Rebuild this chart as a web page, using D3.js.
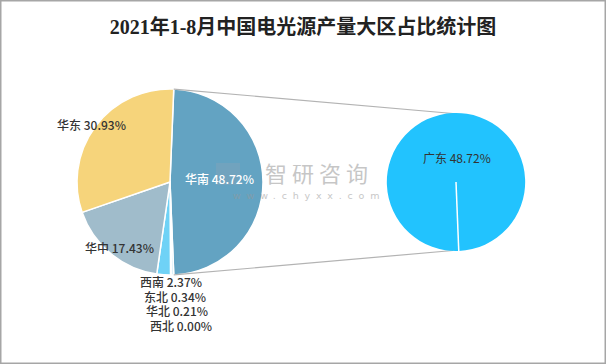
<!DOCTYPE html>
<html><head><meta charset="utf-8">
<script src="https://cdn.jsdelivr.net/npm/d3@7"></script>
<style>
html,body{margin:0;padding:0;background:#fff;}
svg{display:block;}
</style></head>
<body>
<script>
const title = "2021年1-8月中国电光源产量大区占比统计图";
const regions = ["华南","东北","华北","西北","西南","华中","华东"];
const shares = [48.72,0.34,0.21,0.00,2.37,17.43,30.93];
const colors = ["#63a3c2","#79c8e8","#7fcdee","#80d0f0","#6fd2f6","#a0bccb","#f6d47b"];
const subRegions = ["广东"];
const subShares = [48.72];
const subColors = ["#22c3fe"];

const W = 606, H = 364;
const svg = d3.select("body").append("svg").attr("width", W).attr("height", H);
svg.append("rect").attr("x",0.75).attr("y",0.75).attr("width",W-1.5).attr("height",H-1.5)
  .attr("fill","#fff").attr("stroke","#a6a6a6").attr("stroke-width",1.5);

svg.append("text").attr("x", 303).attr("y", 34).attr("text-anchor","middle")
  .attr("font-family","'Liberation Serif','Noto Sans CJK SC',serif").attr("font-size",20)
  .attr("font-weight","bold").attr("fill","#222").text(title);

// main pie
const cx = 170, cy = 182, r = 93;
const total = d3.sum(shares);
const firstAngle = shares[0] / total * 2 * Math.PI;
const start = Math.PI/2 - firstAngle/2;
const pie = d3.pie().sort(null).value(d => d).startAngle(start).endAngle(start + 2*Math.PI);
const arcs = pie(shares);
const arc = d3.arc().innerRadius(0).outerRadius(r);
const g = svg.append("g").attr("transform", `translate(${cx},${cy})`);
g.selectAll("path").data(arcs).join("path")
  .attr("d", arc).attr("fill", (d,i) => colors[i])
  .attr("stroke","#fff").attr("stroke-width",1.5).attr("stroke-linejoin","round");

// second pie
const cx2 = 456, cy2 = 182, r2 = 69;
const subStart = arcs[0].endAngle;
const pie2 = d3.pie().sort(null).value(d => d).startAngle(subStart).endAngle(subStart + 2*Math.PI);
const arcs2 = pie2(subShares);
const arc2 = d3.arc().innerRadius(0).outerRadius(r2);

// connectors
const p = (x0,y0,rr,a) => [x0 + rr*Math.sin(a), y0 - rr*Math.cos(a)];
const a1 = p(cx,cy,r,arcs[0].startAngle), a2 = p(cx,cy,r,arcs[0].endAngle);
const b1 = [cx2 - 3, cy2 - r2 + 0.5], b2 = [cx2 - 3, cy2 + r2 - 0.5];
svg.append("line").attr("x1",a1[0]).attr("y1",a1[1]).attr("x2",b1[0]).attr("y2",b1[1])
  .attr("stroke","#b3b3b3").attr("stroke-width",1.2);
svg.append("line").attr("x1",a2[0]).attr("y1",a2[1]).attr("x2",b2[0]).attr("y2",b2[1])
  .attr("stroke","#b3b3b3").attr("stroke-width",1.2);

const g2 = svg.append("g").attr("transform", `translate(${cx2},${cy2})`);
g2.selectAll("path").data(arcs2).join("path").attr("d", arc2).attr("fill",(d,i)=>subColors[i]);
arcs2.forEach(d => {
  const e = p(0,0,r2,d.startAngle);
  g2.append("line").attr("x1",0).attr("y1",0).attr("x2",e[0]).attr("y2",e[1])
    .attr("stroke","#fff").attr("stroke-width",1.5);
});

// watermark
const wm = svg.append("g").attr("opacity",0.55);
wm.append("rect").attr("x",216).attr("y",163).attr("width",24).attr("height",22).attr("fill","#8fa4b8").attr("opacity",0.6);
wm.append("text").attr("x",265).attr("y",182).attr("font-family","'Noto Sans CJK SC'").attr("font-size",22)
  .attr("fill","#999").attr("letter-spacing",5).text("智研咨询");
wm.append("text").attr("x",233).attr("y",199).attr("font-family","'DejaVu Sans'").attr("font-size",9.5)
  .attr("fill","#999").attr("letter-spacing",5.8).text("www.chyxx.com");

// labels
const font = "'Noto Sans CJK SC','Noto Sans',sans-serif";
const labelPos = {
  "华南":[185,184,"start","#fff"],
  "华东":[57,130,"start","#333"],
  "华中":[85,253,"start","#333"],
  "西南":[140,287,"start","#333"],
  "东北":[144,302,"start","#333"],
  "华北":[146,316,"start","#333"],
  "西北":[150,331,"start","#333"]
};
regions.forEach((name,i) => {
  const lp = labelPos[name];
  svg.append("text").attr("x",lp[0]).attr("y",lp[1]).attr("text-anchor",lp[2])
    .attr("font-family",font).attr("font-size",12).attr("font-weight",500).attr("fill",lp[3])
    .text(`${name} ${shares[i].toFixed(2)}%`);
});
subRegions.forEach((name,i) => {
  svg.append("text").attr("x",423).attr("y",163).attr("font-family",font).attr("font-size",12)
    .attr("fill","#333").text(`${name} ${subShares[i].toFixed(2)}%`);
});
</script>
</body></html>
